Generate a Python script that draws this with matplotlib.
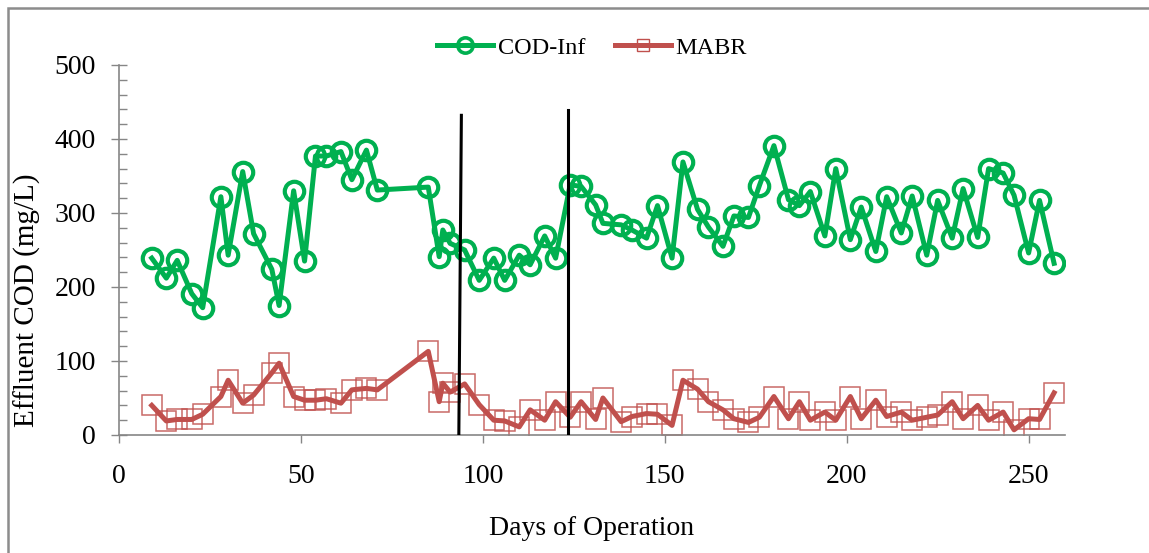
import matplotlib.pyplot as plt
from matplotlib.patches import Rectangle

plt.rcParams['font.family'] = ['Liberation Serif', 'DejaVu Serif']

# days of operation (same sampling days for both series)
days = [9, 13, 16, 20, 23, 28, 30, 34, 37, 42, 44, 48, 51, 54, 57, 61, 64, 68, 71, 85,
        88, 89, 91, 95, 99, 103, 106, 110, 113, 117, 120, 124, 127, 131, 133, 138, 141, 145, 148, 152,
        155, 159, 162, 166, 169, 173, 176, 180, 184, 187, 190, 194, 197, 201, 204, 208, 211, 215, 218, 222,
        225, 229, 232, 236, 239, 243, 246, 250, 253, 257]
# influent COD (mg/L)
cod_inf = [239, 212, 236, 191, 172, 322, 243, 356, 272, 224, 175, 330, 235, 377, 377, 383, 345, 385, 331, 335,
           241, 277, 259, 250, 209, 239, 209, 243, 230, 269, 239, 338, 336, 311, 286, 284, 277, 266, 310, 239,
           369, 305, 281, 255, 296, 294, 337, 391, 318, 310, 329, 269, 360, 264, 308, 248, 322, 273, 323, 243,
           317, 266, 333, 267, 360, 354, 324, 246, 317, 232]
# MABR effluent COD (mg/L)
mabr = [40, 19, 21, 21, 28, 52, 74, 43, 54, 84, 97, 52, 47, 47, 49, 43, 61, 63, 61, 113,
        45, 70, 58, 69, 41, 20, 19, 11, 34, 20, 45, 24, 45, 21, 50, 18, 25, 29, 28, 13,
        74, 62, 45, 34, 22, 17, 24, 52, 22, 45, 20, 31, 20, 52, 22, 47, 25, 31, 20, 24,
        27, 45, 22, 40, 20, 31, 7, 22, 21, 57]

# phase divider lines
div1_x = [93.4, 94.1]
div1_y = [0, 432]
div2_x = [123.3, 123.3]
div2_y = [0, 439]

W, H = 1149, 553
fig = plt.figure(figsize=(W / 100, H / 100), dpi=100)
# outer chart frame (only left and top edges fall inside the image)
fig.patches.append(Rectangle((8 / W, -10 / H), (W + 10) / W, (H + 2) / H,
                             transform=fig.transFigure, fill=False,
                             edgecolor='#8c8c8c', linewidth=1.8))

ax = fig.add_axes([119 / W, (H - 435) / H, (1065 - 119) / W, (435 - 65) / H])

green = '#00B050'
red = '#C0504D'

ax.plot(days, cod_inf, color=green, lw=3.6, marker='o', ms=14, mfc='none',
        mec=green, mew=3.0, zorder=3)
ax.plot(days, mabr, color=red, lw=0, marker='s', ms=14, mfc='none',
        mec=red, mew=1.1, alpha=0.85, zorder=2)
ax.plot(days, mabr, color=red, lw=3.6, zorder=4)
# legend proxies
ax.plot([], [], color=green, lw=3.6, marker='o', ms=11, mfc='none', mec=green,
        mew=2.6, label='COD-Inf')
ax.plot([], [], color=red, lw=3.6, marker='s', ms=9, mfc='none', mec=red,
        mew=1.0, label='MABR')

ax.plot(div1_x, div1_y, color='black', lw=2.2, zorder=5)
ax.plot(div2_x, div2_y, color='black', lw=2.2, zorder=5)

ax.set_xlim(0, 260)
ax.set_ylim(0, 500)
ax.set_xticks([0, 50, 100, 150, 200, 250])
ax.set_yticks([0, 100, 200, 300, 400, 500])
ax.set_yticks(range(0, 501, 20), minor=True)

for s in ['top', 'right']:
    ax.spines[s].set_visible(False)
for s in ['left', 'bottom']:
    ax.spines[s].set_color('#868686')
    ax.spines[s].set_linewidth(1.2)

ax.tick_params(axis='y', which='major', direction='inout', length=11, width=1,
               color='#868686', labelsize=20, pad=11)
ax.tick_params(axis='y', which='minor', direction='in', length=5.5, width=1,
               color='#868686')
ax.tick_params(axis='x', which='major', direction='out', length=6, width=1,
               color='#868686', labelsize=20, pad=15)

ax.set_xlabel('Days of Operation', fontsize=20, labelpad=19)
ax.set_ylabel('Effluent COD (mg/L)', fontsize=21)
ax.yaxis.set_label_coords(-0.082, 0.365)

ax.legend(loc='upper center', bbox_to_anchor=(0.50, 1.135), ncol=2,
          frameon=False, fontsize=17.5, handlelength=2.3, columnspacing=1.2,
          handletextpad=0.2)

fig.savefig('out.png', dpi=100)
